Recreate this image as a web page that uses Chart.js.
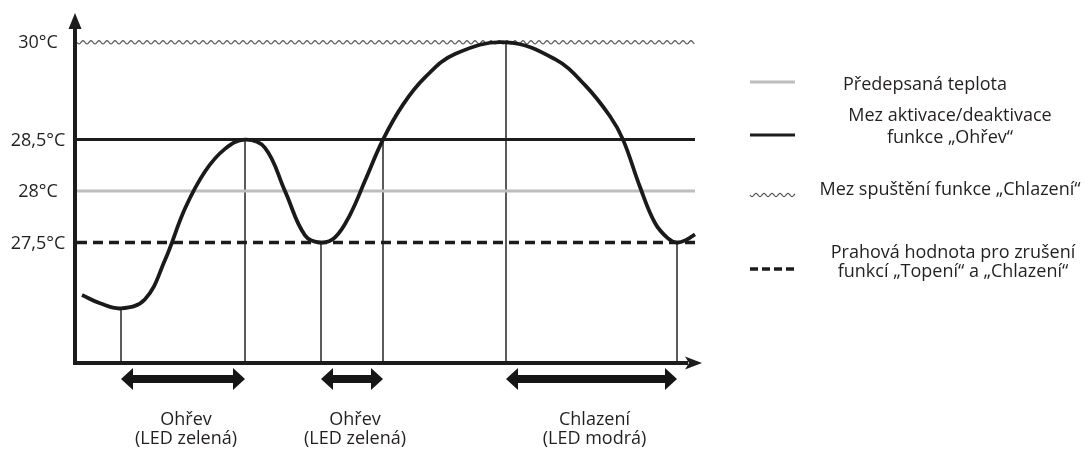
<!DOCTYPE html>
<html>
<head>
<meta charset="utf-8">
<script src="https://cdn.jsdelivr.net/npm/chart.js@4/dist/chart.umd.min.js"></script>
<style>
html,body{margin:0;padding:0;background:#fff;}
canvas{display:block;}
</style>
</head>
<body>
<canvas id="c" width="1090" height="450"></canvas>
<script>
// ---- data (time in arbitrary units, temperature in °C) ----
const curveTime = [0.7, 2.5, 4.6, 7.0, 9.0, 11.0, 13.0, 15.0, 17.0, 19.0, 21.0, 23.0, 24.6, 26.0, 27.5, 29.0, 30.8, 32.8, 35.0, 38.0, 43.1, 48.0, 51.0, 53.5, 54.8, 56.5, 58.0, 59.3, 60.2, 61.2, 62.0];
const curveTemp = [26.99, 26.91, 26.86, 26.95, 27.33, 27.83, 28.19, 28.41, 28.50, 28.42, 28.00, 27.57, 27.50, 27.55, 27.77, 28.10, 28.50, 29.04, 29.46, 29.82, 30.00, 29.74, 29.34, 28.86, 28.50, 28.04, 27.69, 27.54, 27.50, 27.53, 27.58];

const levelValues = [30, 28.5, 28, 27.5];
const levelLabels = ['30°C', '28,5°C', '28°C', '27,5°C'];
const levelEnd = 62.0;

const eventTimes = [4.6, 17.0, 24.6, 30.8, 43.1, 60.2];
const eventTemps = [26.86, 28.5, 27.5, 28.5, 30, 27.5];

const modeStart = [4.6, 24.6, 43.1];
const modeEnd = [17.0, 30.8, 60.2];
const modeNames = ['Ohřev', 'Ohřev', 'Chlazení'];
const modeLeds = ['(LED zelená)', '(LED zelená)', '(LED modrá)'];

const legendLabels = ['Předepsaná teplota', 'Mez aktivace/deaktivace\nfunkce „Ohřev“', 'Mez spuštění funkce „Chlazení“', 'Prahová hodnota pro zrušení\nfunkcí „Topení“ a „Chlazení“'];

// ---- schematic (broken) temperature axis: above 28.5 °C the scale is compressed ----
const LinearScale = Chart.registry.getScale('linear');
function warp(v) { return v <= 28.5 ? v : 28.5 + (v - 28.5) * 0.63; }
class DiagramScale extends LinearScale {
  getPixelForValue(value, index) { return super.getPixelForValue(warp(value), index); }
}
DiagramScale.id = 'diagram';
DiagramScale.defaults = LinearScale.defaults;
Chart.register(DiagramScale);

const FONT = '"Open Sans", "Noto Sans", sans-serif';
const TEXT = '#231f20';

const curvePts = curveTime.map((t, i) => ({x: t, y: curveTemp[i]}));
const levelStyles = {
  28.5: {color: '#1c1c1c', width: 3, dash: []},
  28: {color: '#bdbdbd', width: 3, dash: []},
  27.5: {color: '#1c1c1c', width: 3.5, dash: [10, 6]}
};

const datasets = [{
  data: curvePts, borderColor: '#1a1a1a', borderWidth: 3.8, pointRadius: 0,
  tension: 0.4, fill: false
}];
levelValues.forEach(v => {
  const s = levelStyles[v];
  if (!s) return;
  datasets.push({data: [{x: 0.2, y: v}, {x: levelEnd, y: v}], borderColor: s.color, borderWidth: s.width,
    borderDash: s.dash, pointRadius: 0, tension: 0, fill: false});
});
eventTimes.forEach((t, i) => {
  datasets.push({data: [{x: t, y: eventTemps[i]}, {x: t, y: 26.33}], borderColor: '#333', borderWidth: 1.6,
    pointRadius: 0, tension: 0, fill: false});
});

function wavy(ctx, x0, x1, y, amp, period) {
  ctx.beginPath();
  for (let x = x0; x <= x1; x += 0.5) {
    const yy = y + amp * Math.sin((x - x0) / period * 2 * Math.PI);
    if (x === x0) ctx.moveTo(x, yy); else ctx.lineTo(x, yy);
  }
  ctx.stroke();
}

function dblArrow(ctx, x0, x1, y) {
  const sh = 4, hh = 11, hl = 12;
  ctx.beginPath();
  ctx.moveTo(x0, y);
  ctx.lineTo(x0 + hl, y - hh);
  ctx.lineTo(x0 + hl, y - sh);
  ctx.lineTo(x1 - hl, y - sh);
  ctx.lineTo(x1 - hl, y - hh);
  ctx.lineTo(x1, y);
  ctx.lineTo(x1 - hl, y + hh);
  ctx.lineTo(x1 - hl, y + sh);
  ctx.lineTo(x0 + hl, y + sh);
  ctx.lineTo(x0 + hl, y + hh);
  ctx.closePath();
  ctx.fill();
}

const decor = {
  id: 'decor',
  beforeDatasetsDraw(chart) {
    const ctx = chart.ctx, xs = chart.scales.x, ys = chart.scales.y;
    ctx.save();
    ctx.strokeStyle = '#555';
    ctx.lineWidth = 1.2;
    wavy(ctx, xs.getPixelForValue(0.2), xs.getPixelForValue(levelEnd), ys.getPixelForValue(levelValues[0]), 1.6, 8);
    ctx.restore();
  },
  afterDatasetsDraw(chart) {
    const ctx = chart.ctx, xs = chart.scales.x, ys = chart.scales.y, a = chart.chartArea;
    ctx.save();
    // axes
    ctx.strokeStyle = '#1c1c1c';
    ctx.fillStyle = '#1c1c1c';
    ctx.lineWidth = 4;
    ctx.beginPath();
    ctx.moveTo(a.left, a.bottom);
    ctx.lineTo(a.left, a.top + 12);
    ctx.moveTo(a.left - 2, a.bottom);
    ctx.lineTo(a.right - 14, a.bottom);
    ctx.stroke();
    ctx.beginPath();
    ctx.moveTo(a.left, a.top);
    ctx.lineTo(a.left - 6.5, a.top + 16);
    ctx.lineTo(a.left + 6.5, a.top + 16);
    ctx.closePath();
    ctx.fill();
    ctx.beginPath();
    ctx.moveTo(a.right, a.bottom);
    ctx.lineTo(a.right - 17, a.bottom - 6.5);
    ctx.lineTo(a.right - 13, a.bottom);
    ctx.lineTo(a.right - 17, a.bottom + 6.5);
    ctx.closePath();
    ctx.fill();

    // level labels
    ctx.fillStyle = TEXT;
    ctx.font = '18px ' + FONT;
    ctx.textAlign = 'center';
    ctx.textBaseline = 'middle';
    levelValues.forEach((v, i) => {
      ctx.fillText(levelLabels[i], 38, ys.getPixelForValue(v) + 1);
    });

    // mode arrows and labels
    modeStart.forEach((s, i) => {
      const x0 = xs.getPixelForValue(s), x1 = xs.getPixelForValue(modeEnd[i]);
      ctx.fillStyle = '#161616';
      dblArrow(ctx, x0, x1, a.bottom + 16);
      ctx.fillStyle = TEXT;
      const cx = (x0 + x1) / 2 + 3;
      ctx.fillText(modeNames[i], cx, a.bottom + 57);
      ctx.fillText(modeLeds[i], cx, a.bottom + 76);
    });

    // legend
    const sx0 = 750, sx1 = 795;
    const sampleY = [82, 135, 195, 269];
    const textX = [925, 950, 950, 953];
    const textY = [[85], [116, 138], [190], [253, 272]];
    ctx.lineCap = 'butt';
    ctx.setLineDash([]);
    ctx.strokeStyle = '#bdbdbd'; ctx.lineWidth = 3;
    ctx.beginPath(); ctx.moveTo(sx0, sampleY[0]); ctx.lineTo(sx1, sampleY[0]); ctx.stroke();
    ctx.strokeStyle = '#1c1c1c'; ctx.lineWidth = 3;
    ctx.beginPath(); ctx.moveTo(sx0, sampleY[1]); ctx.lineTo(sx1, sampleY[1]); ctx.stroke();
    ctx.strokeStyle = '#555'; ctx.lineWidth = 1.2;
    wavy(ctx, sx0, sx1, sampleY[2], 1.6, 8);
    ctx.strokeStyle = '#1c1c1c'; ctx.lineWidth = 3.5; ctx.setLineDash([8, 4]);
    ctx.beginPath(); ctx.moveTo(sx0, sampleY[3]); ctx.lineTo(sx1, sampleY[3]); ctx.stroke();
    ctx.setLineDash([]);
    ctx.fillStyle = TEXT;
    legendLabels.forEach((lab, i) => {
      lab.split('\n').forEach((line, j) => ctx.fillText(line, textX[i], textY[i][j]));
    });
    ctx.restore();
  }
};

new Chart(document.getElementById('c'), {
  type: 'line',
  data: {datasets},
  options: {
    responsive: false,
    animation: false,
    events: [],
    layout: {padding: {left: 75, right: 388, top: 13, bottom: 87}},
    scales: {
      x: {type: 'linear', min: 0, max: 62.7, display: false},
      y: {type: 'diagram', min: 26.33, max: 29.73, display: false}
    },
    plugins: {legend: {display: false}, tooltip: {enabled: false}, title: {display: false}}
  },
  plugins: [decor]
});
</script>
</body>
</html>
